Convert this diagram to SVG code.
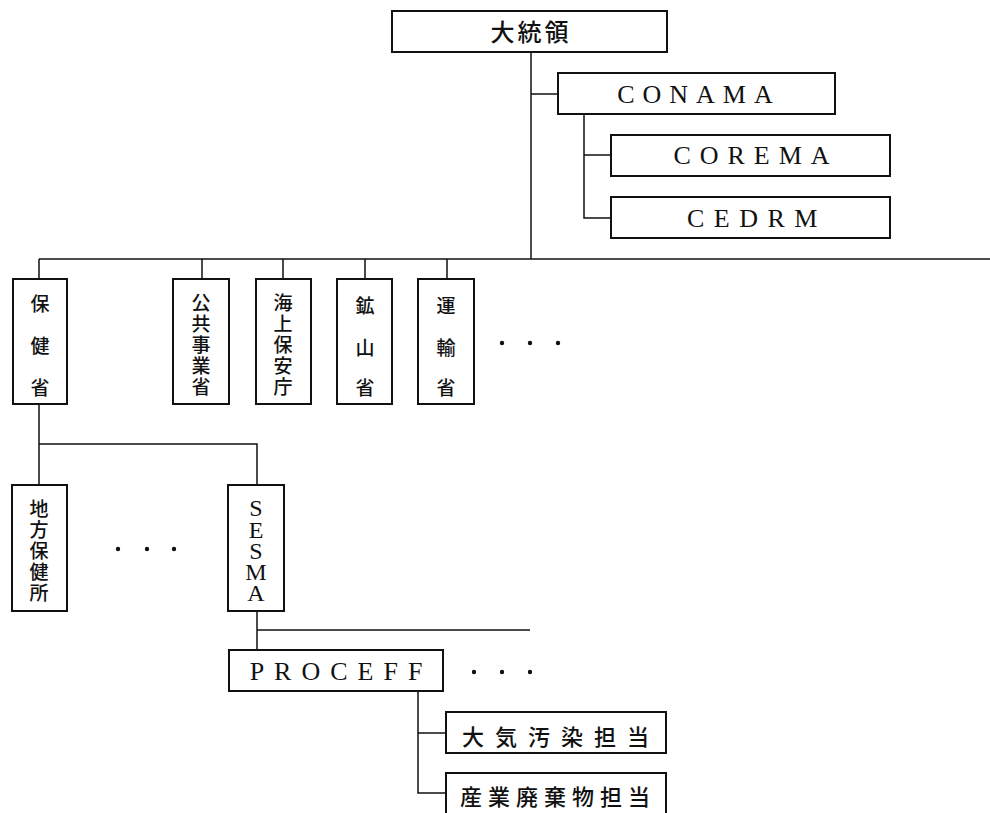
<svg xmlns="http://www.w3.org/2000/svg" width="990" height="813" viewBox="0 0 990 813">
<style>
.box{fill:#fff;stroke:#111;stroke-width:2}
.ln{fill:none;stroke:#111;stroke-width:1.5}
.jp{font-family:"Noto Sans CJK JP","Noto Sans CJK SC",sans-serif;fill:#111;text-anchor:middle;font-weight:500}
.la{font-family:"Liberation Serif",serif;fill:#111;text-anchor:middle}
.dot{fill:#111}
</style>
<rect width="990" height="813" fill="#fff"/>
<g id="connectors">
<path class="ln" d="M531 52V259"/>
<path class="ln" d="M531 94H558"/>
<path class="ln" d="M584 114V218H611M584 155H611"/>
<path class="ln" d="M39 259H990"/>
<path class="ln" d="M39 259V279M202 259V279M283 259V279M365 259V279M447 259V279"/>
<path class="ln" d="M39 404V485M39 444H257V485"/>
<path class="ln" d="M257 611V650M257 630H530"/>
<path class="ln" d="M418 691V793H446M418 733H446"/>
</g>
<g id="n-president"><rect class="box" x="392" y="11" width="275" height="41"/><text class="jp" x="531" y="41" font-size="24" letter-spacing="3">大統領</text></g>
<g id="n-conama"><rect class="box" x="558" y="73" width="277" height="41"/><text class="la" x="699" y="103" font-size="26" letter-spacing="8">CONAMA</text></g>
<g id="n-corema"><rect class="box" x="611" y="135" width="279" height="41"/><text class="la" x="756" y="164" font-size="26" letter-spacing="9">COREMA</text></g>
<g id="n-cedrm"><rect class="box" x="611" y="197" width="279" height="41"/><text class="la" x="757" y="227" font-size="26" letter-spacing="9.5">CEDRM</text></g>
<g id="n-health"><rect class="box" x="13" y="279" width="54" height="125"/><text class="jp" font-size="19"><tspan x="40" y="311">保</tspan><tspan x="40" y="353">健</tspan><tspan x="40" y="395">省</tspan></text></g>
<g id="n-public"><rect class="box" x="173" y="279" width="56" height="125"/><text class="jp" font-size="19"><tspan x="201" y="310">公</tspan><tspan x="201" y="331">共</tspan><tspan x="201" y="352">事</tspan><tspan x="201" y="373">業</tspan><tspan x="201" y="394">省</tspan></text></g>
<g id="n-coast"><rect class="box" x="256" y="279" width="55" height="125"/><text class="jp" font-size="19"><tspan x="283" y="310">海</tspan><tspan x="283" y="331">上</tspan><tspan x="283" y="352">保</tspan><tspan x="283" y="373">安</tspan><tspan x="283" y="394">庁</tspan></text></g>
<g id="n-mining"><rect class="box" x="337" y="279" width="55" height="125"/><text class="jp" font-size="19"><tspan x="365" y="313">鉱</tspan><tspan x="365" y="355">山</tspan><tspan x="365" y="395">省</tspan></text></g>
<g id="n-transport"><rect class="box" x="418" y="279" width="56" height="125"/><text class="jp" font-size="19"><tspan x="446" y="313">運</tspan><tspan x="446" y="355">輸</tspan><tspan x="446" y="395">省</tspan></text></g>
<g id="dots1"><circle class="dot" cx="502" cy="343" r="2.2"/><circle class="dot" cx="530" cy="343" r="2.2"/><circle class="dot" cx="558" cy="343" r="2.2"/></g>
<g id="n-local"><rect class="box" x="12" y="485" width="55" height="126"/><text class="jp" font-size="19"><tspan x="39" y="516">地</tspan><tspan x="39" y="537">方</tspan><tspan x="39" y="558">保</tspan><tspan x="39" y="579">健</tspan><tspan x="39" y="600">所</tspan></text></g>
<g id="dots2"><circle class="dot" cx="118" cy="549" r="2.2"/><circle class="dot" cx="147" cy="549" r="2.2"/><circle class="dot" cx="174" cy="549" r="2.2"/></g>
<g id="n-sesma"><rect class="box" x="228" y="485" width="56" height="126"/><text class="la" font-size="24"><tspan x="256" y="516">S</tspan><tspan x="256" y="538">E</tspan><tspan x="256" y="559">S</tspan><tspan x="256" y="580">M</tspan><tspan x="256" y="601">A</tspan></text></g>
<g id="n-proceff"><rect class="box" x="229" y="650" width="214" height="41"/><text class="la" x="341" y="680" font-size="26" letter-spacing="10">PROCEFF</text></g>
<g id="dots3"><circle class="dot" cx="474" cy="672" r="2.2"/><circle class="dot" cx="502" cy="672" r="2.2"/><circle class="dot" cx="530" cy="672" r="2.2"/></g>
<g id="n-air"><rect class="box" x="446" y="712" width="220" height="41"/><text class="jp" x="561" y="745" font-size="22" letter-spacing="11">大気汚染担当</text></g>
<g id="n-waste"><rect class="box" x="446" y="773" width="220" height="45"/><text class="jp" x="558" y="805" font-size="22" letter-spacing="6">産業廃棄物担当</text></g>
</svg>
